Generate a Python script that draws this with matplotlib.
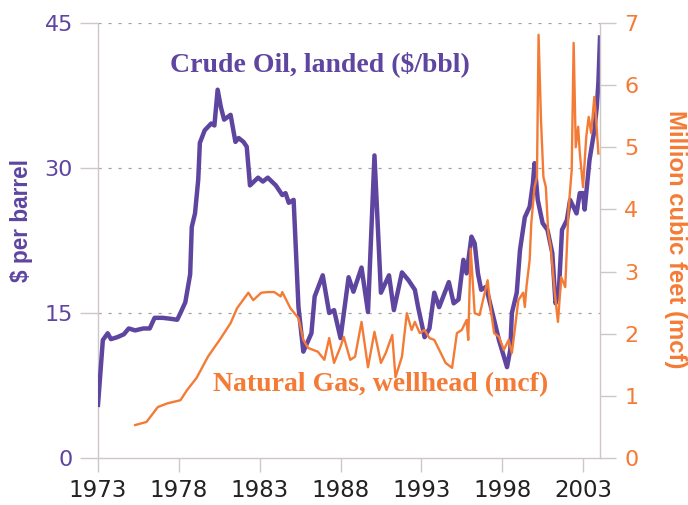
import matplotlib
matplotlib.use("Agg")
import matplotlib.pyplot as plt
import numpy as np

purple = "#5E45A0"
orange = "#F47B35"
spine_gray = "#CFC6C6"

# crude oil, landed ($/bbl)
oil_years = [1973.0, 1973.3, 1973.6, 1973.8, 1974.2, 1974.6, 1974.9, 1975.3, 1975.8, 1976.2,
             1976.5, 1977.0, 1977.5, 1977.9, 1978.1, 1978.4, 1978.7, 1978.8, 1979.0, 1979.2,
             1979.3, 1979.6, 1980.0, 1980.2, 1980.4, 1980.6, 1980.8, 1981.2, 1981.5, 1981.7,
             1982.0, 1982.2, 1982.4, 1982.9, 1983.2, 1983.5, 1984.0, 1984.4, 1984.6, 1984.8,
             1985.1, 1985.4, 1985.7, 1986.2, 1986.4, 1986.9, 1987.3, 1987.6, 1988.0, 1988.5,
             1988.8, 1989.3, 1989.7, 1990.1, 1990.5, 1991.0, 1991.3, 1991.8, 1992.2, 1992.6,
             1992.8, 1993.2, 1993.5, 1993.8, 1994.1, 1994.7, 1995.0, 1995.3, 1995.6, 1995.8,
             1996.1, 1996.3, 1996.5, 1996.7, 1997.0, 1997.5, 1997.8, 1998.3, 1998.5, 1998.6,
             1998.9, 1999.1, 1999.4, 1999.7, 1999.9, 2000.0, 2000.2, 2000.5, 2000.8, 2001.1,
             2001.3, 2001.5, 2001.7, 2002.0, 2002.2, 2002.6, 2002.8, 2003.0, 2003.1, 2003.4,
             2003.7, 2003.85, 2003.95, 2004.05]
oil_price = [5.5, 12.2, 12.9, 12.3, 12.5, 12.8, 13.4, 13.2, 13.4, 13.4,
             14.5, 14.5, 14.4, 14.3, 15.0, 16.1, 19.0, 23.9, 25.3, 28.8,
             32.6, 33.9, 34.6, 34.4, 38.1, 36.3, 35.0, 35.5, 32.7, 33.1,
             32.7, 32.2, 28.2, 29.0, 28.6, 29.0, 28.2, 27.2, 27.4, 26.4,
             26.7, 15.6, 11.0, 12.9, 16.7, 18.9, 15.0, 15.3, 12.4, 18.7,
             17.2, 19.7, 15.1, 31.3, 17.1, 18.9, 15.3, 19.2, 18.4, 17.4,
             15.6, 12.5, 13.4, 17.1, 15.6, 18.2, 16.0, 16.4, 20.5, 19.1,
             22.9, 22.2, 19.1, 17.4, 17.7, 14.3, 12.2, 9.4, 11.2, 15.0,
             17.1, 21.5, 24.9, 26.0, 28.4, 30.5, 26.7, 24.3, 23.6, 21.2,
             16.0, 17.1, 23.6, 24.6, 26.7, 25.3, 27.4, 27.4, 25.7, 30.8,
             33.9, 36.3, 38.8, 43.5]

# natural gas, wellhead ($/mcf)
gas_years = [1975.3, 1976.0, 1976.7, 1977.3, 1978.1, 1978.5, 1979.1, 1979.8, 1980.6, 1981.2,
             1981.6, 1982.3, 1982.6, 1983.1, 1983.5, 1983.9, 1984.3, 1984.4, 1984.9, 1985.4,
             1985.7, 1986.0, 1986.6, 1987.0, 1987.3, 1987.6, 1988.0, 1988.2, 1988.6, 1988.9,
             1989.3, 1989.7, 1990.1, 1990.5, 1990.8, 1991.2, 1991.4, 1991.8, 1992.1, 1992.4,
             1992.6, 1992.9, 1993.2, 1993.5, 1993.8, 1994.2, 1994.5, 1994.9, 1995.2, 1995.5,
             1995.8, 1995.9, 1996.05, 1996.3, 1996.6, 1997.1, 1997.3, 1997.5, 1997.8, 1998.1,
             1998.4, 1998.6, 1998.8, 1999.0, 1999.3, 1999.4, 1999.5, 1999.7, 1999.8, 2000.0,
             2000.15, 2000.25, 2000.4, 2000.55, 2000.7, 2000.85, 2001.0, 2001.25, 2001.45, 2001.65,
             2001.9, 2002.1, 2002.3, 2002.42, 2002.55, 2002.7, 2002.8, 2003.0, 2003.2, 2003.35,
             2003.5, 2003.7, 2003.8, 2003.95]
gas_price = [0.53, 0.58, 0.82, 0.88, 0.93, 1.09, 1.29, 1.63, 1.93, 2.17,
             2.41, 2.66, 2.54, 2.66, 2.67, 2.67, 2.60, 2.67, 2.41, 2.25,
             1.90, 1.77, 1.71, 1.58, 1.93, 1.53, 1.79, 1.95, 1.58, 1.63,
             2.19, 1.46, 2.03, 1.53, 1.69, 1.98, 1.30, 1.63, 2.33, 2.06,
             2.19, 2.01, 2.06, 1.93, 1.90, 1.69, 1.53, 1.45, 2.01, 2.06,
             2.22, 1.90, 3.37, 2.33, 2.30, 2.86, 2.38, 2.01, 1.95, 1.74,
             1.90, 1.69, 2.11, 2.54, 2.66, 2.43, 2.75, 3.19, 3.78, 4.36,
             4.52, 6.81, 5.44, 4.52, 4.36, 3.62, 3.40, 2.66, 2.19, 2.91,
             2.75, 3.99, 4.63, 6.68, 5.00, 5.33, 4.91, 4.36, 5.17, 5.49,
             5.23, 5.81, 5.49, 4.90]

year_ticks = [1973, 1978, 1983, 1988, 1993, 1998, 2003]
oil_ticks = [0, 15, 30, 45]
gas_ticks = [0, 1, 2, 3, 4, 5, 6, 7]

narrow = ["Liberation Sans Narrow", "Liberation Sans"]

fig = plt.figure(figsize=(6.88, 5.05), dpi=100)
ax = fig.add_axes([98 / 688, 1 - 458 / 505, 502 / 688, 435 / 505])
ax2 = ax.twinx()

ax.plot(oil_years, oil_price, color=purple, linewidth=3.2, solid_joinstyle="round", zorder=3)
ax2.plot(gas_years, gas_price, color=orange, linewidth=1.7, solid_joinstyle="round", zorder=3)

ax.set_xlim(1973, 2004.05)
ax.set_ylim(0, 45)
ax2.set_ylim(0, 7)

for y in oil_ticks[1:]:
    ax.axhline(y, color="#A8A0A0", linewidth=0.9, linestyle=(0, (2.5, 5.5)), zorder=1)

ax.set_xticks(year_ticks)
ax.set_xticklabels([str(y) for y in year_ticks])
ax.set_yticks(oil_ticks)
ax2.set_yticks(gas_ticks)

for a in (ax, ax2):
    a.spines["top"].set_visible(False)
    for s in ("left", "right", "bottom"):
        a.spines[s].set_color(spine_gray)
        a.spines[s].set_linewidth(1.0)
ax.spines["right"].set_visible(False)
ax2.spines["left"].set_visible(False)
ax2.spines["bottom"].set_visible(False)

ax.tick_params(axis="x", length=10, width=1.0, color=spine_gray, pad=5,
               labelsize=16.5, labelcolor="#222222")
ax.tick_params(axis="y", length=13, width=1.0, color=spine_gray, pad=5,
               labelsize=16, labelcolor=purple)
ax2.tick_params(axis="y", length=11.5, width=1.0, color=spine_gray, pad=6,
                labelsize=16, labelcolor=orange)

ax.set_ylabel("$ per barrel", color=purple, fontsize=16.3, fontweight="bold",
              family=narrow, va="center", ha="center")
ax.yaxis.set_label_coords(-0.152, 0.547)
ax2.set_ylabel("Million cubic feet (mcf)", color=orange, fontsize=17.2, fontweight="bold",
               family=narrow, rotation=270, va="center", ha="center")
ax2.yaxis.set_label_coords(1.151, 0.503)

fig.text(320 / 688, 1 - 64 / 505, "Crude Oil, landed ($/bbl)", color=purple,
         fontsize=20, fontweight="bold", family="Liberation Serif", ha="center", va="center")
fig.text(381 / 688, 1 - 385 / 505, "Natural Gas, wellhead (mcf)", color=orange,
         fontsize=20, fontweight="bold", family="Liberation Serif", ha="center", va="center")

fig.savefig("out.png", dpi=100)
